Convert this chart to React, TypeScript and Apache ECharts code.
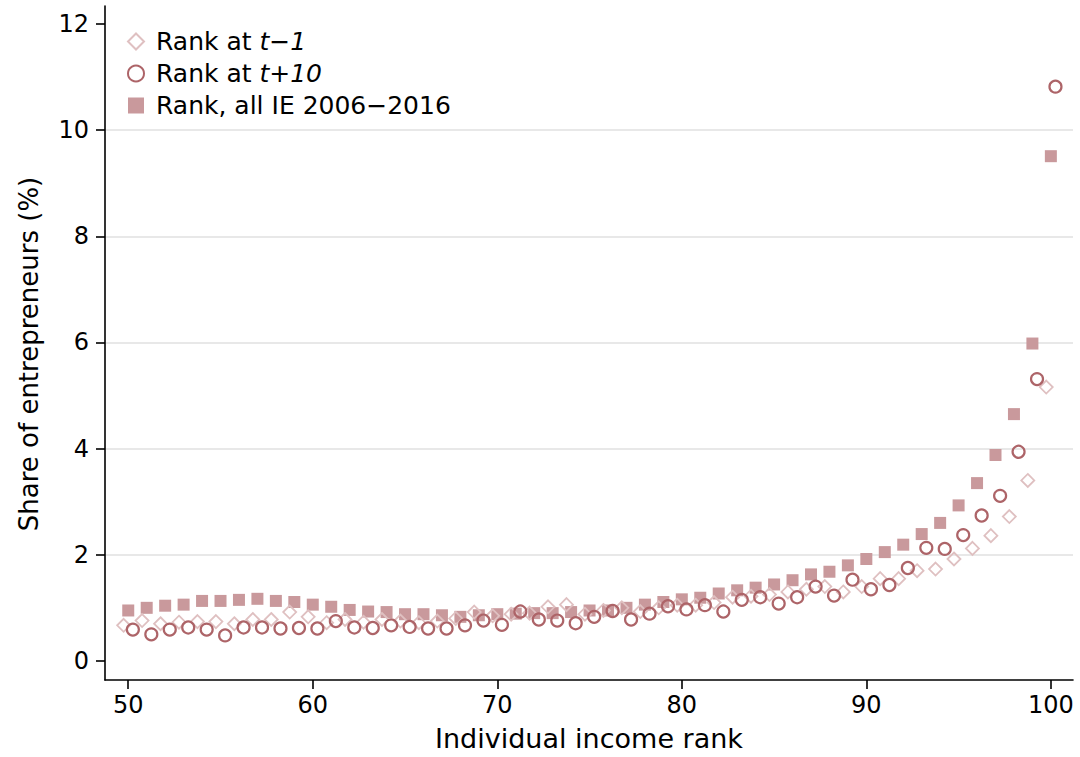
import React, { useEffect, useRef } from "react";
import * as echarts from "echarts";

const ranks = [
  50, 51, 52, 53, 54, 55, 56, 57, 58, 59, 60, 61, 62, 63, 64, 65, 66, 67, 68, 69, 70,
  71, 72, 73, 74, 75, 76, 77, 78, 79, 80, 81, 82, 83, 84, 85, 86, 87, 88, 89, 90,
  91, 92, 93, 94, 95, 96, 97, 98, 99, 100,
];

const rankTMinus1 = [
  0.67, 0.76, 0.70, 0.73, 0.74, 0.74, 0.70, 0.78, 0.78, 0.92, 0.83, 0.72, 0.78, 0.73, 0.78,
  0.75, 0.72, 0.75, 0.80, 0.92, 0.85, 0.88, 0.90, 1.02, 1.06, 0.88, 0.95, 1.00, 0.93, 1.00,
  1.05, 1.05, 1.10, 1.20, 1.22, 1.25, 1.30, 1.35, 1.40, 1.30, 1.40, 1.55, 1.55, 1.70, 1.73,
  1.92, 2.12, 2.36, 2.72, 3.40, 5.16,
];

const rankTPlus10 = [
  0.59, 0.50, 0.59, 0.63, 0.59, 0.48, 0.63, 0.63, 0.61, 0.62, 0.61, 0.75, 0.63, 0.62, 0.67,
  0.64, 0.61, 0.61, 0.67, 0.76, 0.68, 0.93, 0.78, 0.76, 0.71, 0.83, 0.94, 0.78, 0.89, 1.03,
  0.97, 1.05, 0.93, 1.15, 1.20, 1.08, 1.20, 1.40, 1.23, 1.53, 1.35, 1.43, 1.75, 2.13, 2.11,
  2.37, 2.74, 3.11, 3.94, 5.31, 10.82,
];

const rankAllIE = [
  0.95, 1.00, 1.04, 1.06, 1.13, 1.13, 1.15, 1.17, 1.13, 1.11, 1.06, 1.02, 0.96, 0.93, 0.92,
  0.88, 0.88, 0.86, 0.83, 0.86, 0.88, 0.89, 0.90, 0.90, 0.92, 0.95, 0.95, 1.00, 1.06, 1.11,
  1.16, 1.19, 1.27, 1.33, 1.38, 1.44, 1.52, 1.63, 1.68, 1.80, 1.92, 2.05, 2.19, 2.39, 2.60,
  2.93, 3.35, 3.88, 4.65, 5.98, 9.51,
];

const xTicks = [50, 60, 70, 80, 90, 100];
const yTicks = [0, 2, 4, 6, 8, 10, 12];

const NAME_T1 = "Rank at t\u22121";
const NAME_T10 = "Rank at t+10";
const NAME_ALL = "Rank, all IE 2006\u22122016";

const FONT = "DejaVu Sans";

export default function App() {
  const ref = useRef<HTMLDivElement>(null);

  useEffect(() => {
    if (!ref.current) return;
    const chart = echarts.init(ref.current, null, { renderer: "svg" });

    const option = {
      animation: false,
      backgroundColor: "#ffffff",
      textStyle: { fontFamily: FONT },
      grid: { left: 105, right: 7, top: 6, bottom: 77 },
      legend: {
        orient: "vertical",
        left: 122,
        top: 24,
        itemWidth: 16,
        itemHeight: 16,
        itemGap: 7,
        data: [NAME_T1, NAME_T10, NAME_ALL],
        textStyle: {
          fontFamily: FONT,
          fontSize: 25,
          color: "#000",
          padding: [0, 0, 0, 7],
          rich: {
            it: { fontFamily: FONT, fontSize: 25, fontStyle: "italic", color: "#000" },
          },
        },
        formatter: (name: string) => {
          if (name === NAME_T1) return "Rank at {it|t\u22121}";
          if (name === NAME_T10) return "Rank at {it|t+10}";
          return name;
        },
      },
      xAxis: {
        type: "value",
        min: 48.74,
        max: 101.2,
        name: "Individual income rank",
        nameLocation: "middle",
        nameGap: 45,
        nameTextStyle: { fontFamily: FONT, fontSize: 27, color: "#000" },
        axisLine: { show: true, onZero: false, lineStyle: { color: "#000", width: 1.6 } },
        axisTick: { show: true, length: 9, customValues: xTicks, lineStyle: { color: "#000", width: 1.6 } },
        axisLabel: { customValues: xTicks, fontFamily: FONT, fontSize: 24, color: "#000", margin: 13 },
        splitLine: { show: false },
      },
      yAxis: {
        type: "value",
        min: -0.36,
        max: 12.34,
        splitNumber: 6,
        axisLine: { show: true, onZero: false, lineStyle: { color: "#000", width: 1.6 } },
        axisTick: { show: true, length: 9, customValues: yTicks, lineStyle: { color: "#000", width: 1.6 } },
        axisLabel: { customValues: yTicks, fontFamily: FONT, fontSize: 24, color: "#000", margin: 16 },
        splitLine: {
          show: true,
          showMinLine: false,
          showMaxLine: false,
          lineStyle: { color: "#e8e8e8", width: 2 },
        },
      },
      graphic: [
        {
          type: "text",
          x: 29,
          y: 354,
          rotation: Math.PI / 2,
          style: {
            text: "Share of entrepreneurs (%)",
            fontFamily: FONT,
            fontSize: 26,
            fill: "#000",
            align: "center",
            verticalAlign: "middle",
          },
        },
      ],
      series: [
        {
          name: NAME_ALL,
          type: "scatter",
          symbol: "rect",
          symbolSize: 12,
          itemStyle: { color: "#c9999c", opacity: 1 },
          data: ranks.map((r, i) => [r, rankAllIE[i]]),
          z: 2,
        },
        {
          name: NAME_T1,
          type: "scatter",
          symbol: "diamond",
          symbolSize: 13,
          itemStyle: { color: "rgba(255,255,255,0)", borderColor: "#dfc0c1", borderWidth: 1.8, opacity: 1 },
          data: ranks.map((r, i) => [r - 0.25, rankTMinus1[i]]),
          z: 3,
        },
        {
          name: NAME_T10,
          type: "scatter",
          symbol: "circle",
          symbolSize: 12,
          itemStyle: { color: "rgba(255,255,255,0)", borderColor: "#ad6468", borderWidth: 2.2, opacity: 1 },
          data: ranks.map((r, i) => [r + 0.25, rankTPlus10[i]]),
          z: 4,
        },
      ],
    };

    chart.setOption(option as any);
    return () => chart.dispose();
  }, []);

  return (
    <div
      ref={ref}
      style={{ position: "fixed", left: 0, top: 0, width: 1080, height: 757, background: "#fff" }}
    />
  );
}
